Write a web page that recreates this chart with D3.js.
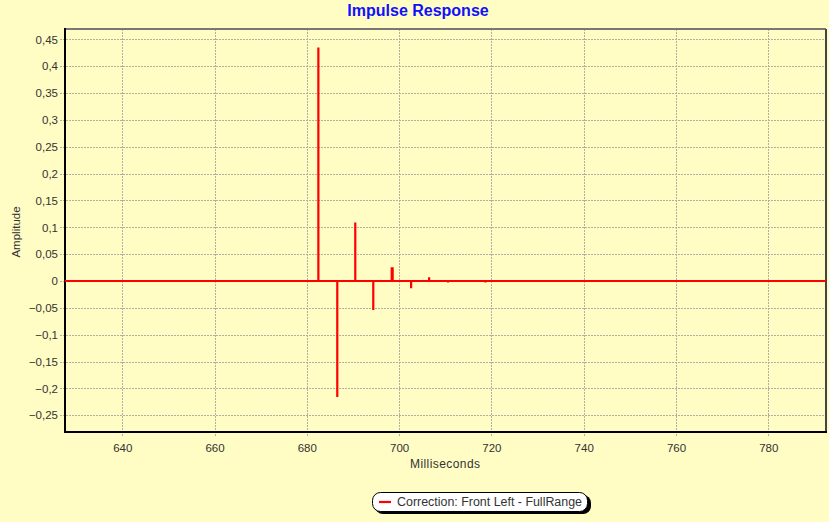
<!DOCTYPE html>
<html><head><meta charset="utf-8">
<script src="https://cdn.jsdelivr.net/npm/d3@7"></script>
<style>body{margin:0;background:#FFFCC4;} svg{display:block;font-family:"Liberation Sans",Arial,sans-serif;}</style>
</head><body>
<svg id="c" width="829" height="522"></svg>
<script>
const spikeTimes = [682.5, 686.6, 690.5, 694.4, 698.4, 698.6, 702.6, 706.5, 710.6, 718.7];
const spikeValues = [0.435, -0.216, 0.109, -0.054, 0.0255, 0.0255, -0.0136, 0.007, -0.003, -0.003];
const xTicks = [640, 660, 680, 700, 720, 740, 760, 780];
const yTicks = [-0.25, -0.2, -0.15, -0.1, -0.05, 0, 0.05, 0.1, 0.15, 0.2, 0.25, 0.3, 0.35, 0.4, 0.45];
const xDomain = [627.6, 792.5];
const yDomain = [-0.2813, 0.4695];
const titleText = "Impulse Response";
const xTitle = "Milliseconds";
const yTitle = "Amplitude";
const legendText = "Correction: Front Left - FullRange";

const svg = d3.select("#c");
const L = 65, R = 826, T = 29, B = 432;
const x = d3.scaleLinear().domain(xDomain).range([L, R]);
const y = d3.scaleLinear().domain(yDomain).range([B, T]);
const fmt = v => (Math.abs(v) < 1e-9 ? "0" : d3.format("")(+v.toFixed(2)).replace(".", ","));

svg.append("rect").attr("width", 829).attr("height", 522).attr("fill", "#FFFCC4");

// grid
const grid = svg.append("g").attr("stroke", "#b2b0a0").attr("stroke-dasharray", "2,1").attr("stroke-width", 1);
grid.selectAll(".gx").data(xTicks).join("line")
  .attr("x1", d => Math.round(x(d)) + 0.5).attr("x2", d => Math.round(x(d)) + 0.5)
  .attr("y1", T).attr("y2", B + 5);
grid.selectAll(".gy").data(yTicks).join("line")
  .attr("y1", d => Math.round(y(d)) + 0.5).attr("y2", d => Math.round(y(d)) + 0.5)
  .attr("x1", L - 5).attr("x2", R);

// axes labels via d3 axes
const ax = svg.append("g").attr("transform", `translate(0,${B})`)
  .call(d3.axisBottom(x).tickValues(xTicks).tickFormat(d3.format("d")).tickSize(0).tickPadding(12));
ax.select(".domain").remove();
ax.selectAll("text").attr("font-size", 11.5).attr("fill", "#333").attr("font-family", "Liberation Sans, Arial, sans-serif");
const ay = svg.append("g").attr("transform", `translate(${L},0)`)
  .call(d3.axisLeft(y).tickValues(yTicks).tickFormat(fmt).tickSize(0).tickPadding(7));
ay.select(".domain").remove();
ay.selectAll("text").attr("font-size", 11.5).attr("fill", "#333").attr("font-family", "Liberation Sans, Arial, sans-serif");

// frame
svg.append("line").attr("x1", L).attr("x2", R).attr("y1", T).attr("y2", T).attr("stroke", "#777").attr("stroke-width", 2);
svg.append("line").attr("x1", R).attr("x2", R).attr("y1", T).attr("y2", B).attr("stroke", "#444").attr("stroke-width", 2);
svg.append("line").attr("x1", L).attr("x2", L).attr("y1", T - 1).attr("y2", B + 1).attr("stroke", "#000").attr("stroke-width", 2);
svg.append("line").attr("x1", L - 1).attr("x2", R + 1).attr("y1", B).attr("y2", B).attr("stroke", "#000").attr("stroke-width", 2);

// data line
const pts = [[xDomain[0], 0]];
spikeTimes.forEach((t, i) => { pts.push([t, 0], [t, spikeValues[i]], [t, 0]); });
pts.push([xDomain[1], 0]);
svg.append("path").datum(pts)
  .attr("d", d3.line().x(d => x(d[0])).y(d => y(d[1])))
  .attr("fill", "none").attr("stroke", "#ff0000").attr("stroke-width", 2.2);

// titles
svg.append("text").attr("x", 418).attr("y", 16).attr("text-anchor", "middle")
  .attr("font-size", 16).attr("font-weight", "bold").attr("fill", "#1010ff").text(titleText);
svg.append("text").attr("x", 410).attr("y", 468)
  .attr("font-size", 12).attr("fill", "#333").attr("textLength", 70).attr("lengthAdjust", "spacing").text(xTitle);
svg.append("text").attr("transform", "translate(20,232) rotate(-90)").attr("text-anchor", "middle")
  .attr("font-size", 11.5).attr("fill", "#333").text(yTitle);

// legend
const lg = svg.append("g");
lg.append("rect").attr("x", 375).attr("y", 495).attr("width", 216).attr("height", 19).attr("rx", 8).attr("fill", "#000");
lg.append("rect").attr("x", 372.5).attr("y", 492.5).attr("width", 215).attr("height", 19).attr("rx", 8).attr("fill", "#fff").attr("stroke", "#000").attr("stroke-width", 1);
lg.append("line").attr("x1", 379).attr("x2", 391).attr("y1", 502).attr("y2", 502).attr("stroke", "#ff0000").attr("stroke-width", 2.2);
lg.append("text").attr("x", 397).attr("y", 506).attr("font-size", 12).attr("fill", "#333")
  .attr("textLength", 185).attr("lengthAdjust", "spacingAndGlyphs").text(legendText);
</script>
</body></html>
